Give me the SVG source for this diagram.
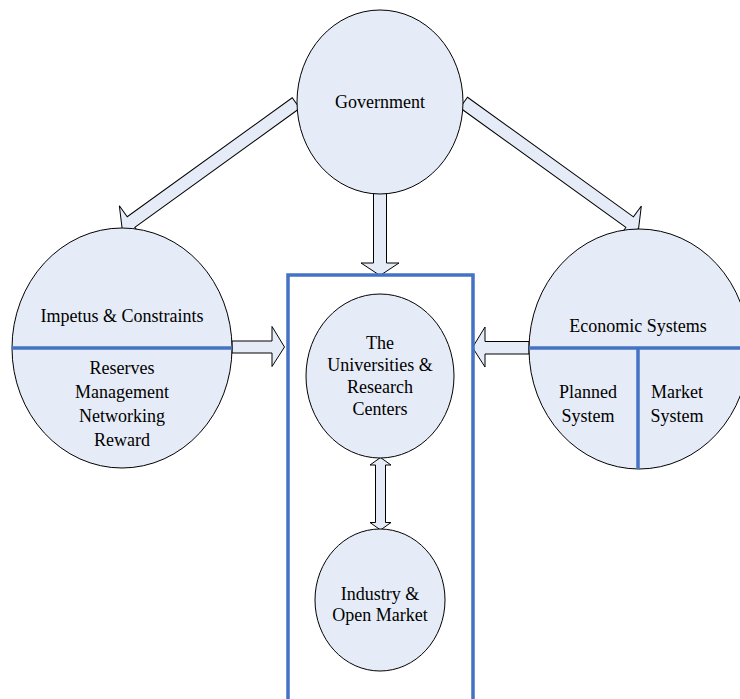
<svg xmlns="http://www.w3.org/2000/svg" width="740" height="699" viewBox="0 0 740 699">
<style>
.n{fill:#e6ecf7;stroke:#000;stroke-width:1}
.a{fill:#e6ecf7;stroke:#000;stroke-width:1;stroke-linejoin:miter}
.b{stroke:#4472c4;stroke-width:3.5;fill:none}
text{font-family:"Liberation Serif","Times New Roman",serif;font-size:18px;fill:#000;text-anchor:middle}
</style>
<rect width="740" height="699" fill="#fff"/>
<g id="connectors">
<polygon class="a" transform="translate(296,103) rotate(144.2)" points="0,-6.5 203.4,-6.5 203.4,-20 214.4,0 203.4,20 203.4,6.5 0,6.5"/>
<polygon class="a" transform="translate(463.7,102.5) rotate(35.8)" points="0,-6.5 204.6,-6.5 204.6,-20 215.6,0 204.6,20 204.6,6.5 0,6.5"/>
<polygon class="a" points="373.5,193 386.5,193 386.5,263 399,263 380,275.5 361,263 373.5,263"/>
<polygon class="a" points="232,341 272,341 272,326.5 284.5,347 272,366.5 272,353 232,353"/>
<polygon class="a" points="529,341.5 485,341.5 485,327 472.5,347.5 485,367 485,354 529,354"/>
<polygon class="a" points="380.5,457.5 391,465 385.5,465 385.5,522.5 391,522.5 380.5,530 370,522.5 375.5,522.5 375.5,465 370,465"/>
</g>
<g id="government">
<ellipse class="n" cx="380" cy="102" rx="83" ry="92"/>
<text x="380" y="108">Government</text>
</g>
<g id="impetus">
<ellipse class="n" cx="122" cy="348" rx="110" ry="120"/>
<line class="b" x1="12" y1="348" x2="232" y2="348"/>
<text x="122" y="322">Impetus &amp; Constraints</text>
<text x="122" y="374">Reserves</text>
<text x="122" y="398">Management</text>
<text x="122" y="422">Networking</text>
<text x="122" y="446">Reward</text>
</g>
<g id="economic">
<ellipse class="n" cx="639" cy="349" rx="110" ry="120"/>
<line class="b" x1="529" y1="348" x2="740" y2="348"/>
<line class="b" x1="638" y1="348" x2="638" y2="469"/>
<text x="638" y="332">Economic Systems</text>
<text x="588" y="398">Planned</text>
<text x="588" y="422">System</text>
<text x="677" y="398">Market</text>
<text x="677" y="422">System</text>
</g>
<g id="container">
<polyline class="b" points="288,702 288,275 473,275 473,702"/>
</g>
<g id="universities">
<ellipse class="n" cx="380" cy="376" rx="74" ry="82"/>
<text x="380" y="349">The</text>
<text x="380" y="371">Universities &amp;</text>
<text x="380" y="393">Research</text>
<text x="380" y="415">Centers</text>
</g>
<g id="industry">
<ellipse class="n" cx="380" cy="600" rx="65" ry="71"/>
<text x="380" y="600">Industry &amp;</text>
<text x="380" y="621">Open Market</text>
</g>
</svg>
